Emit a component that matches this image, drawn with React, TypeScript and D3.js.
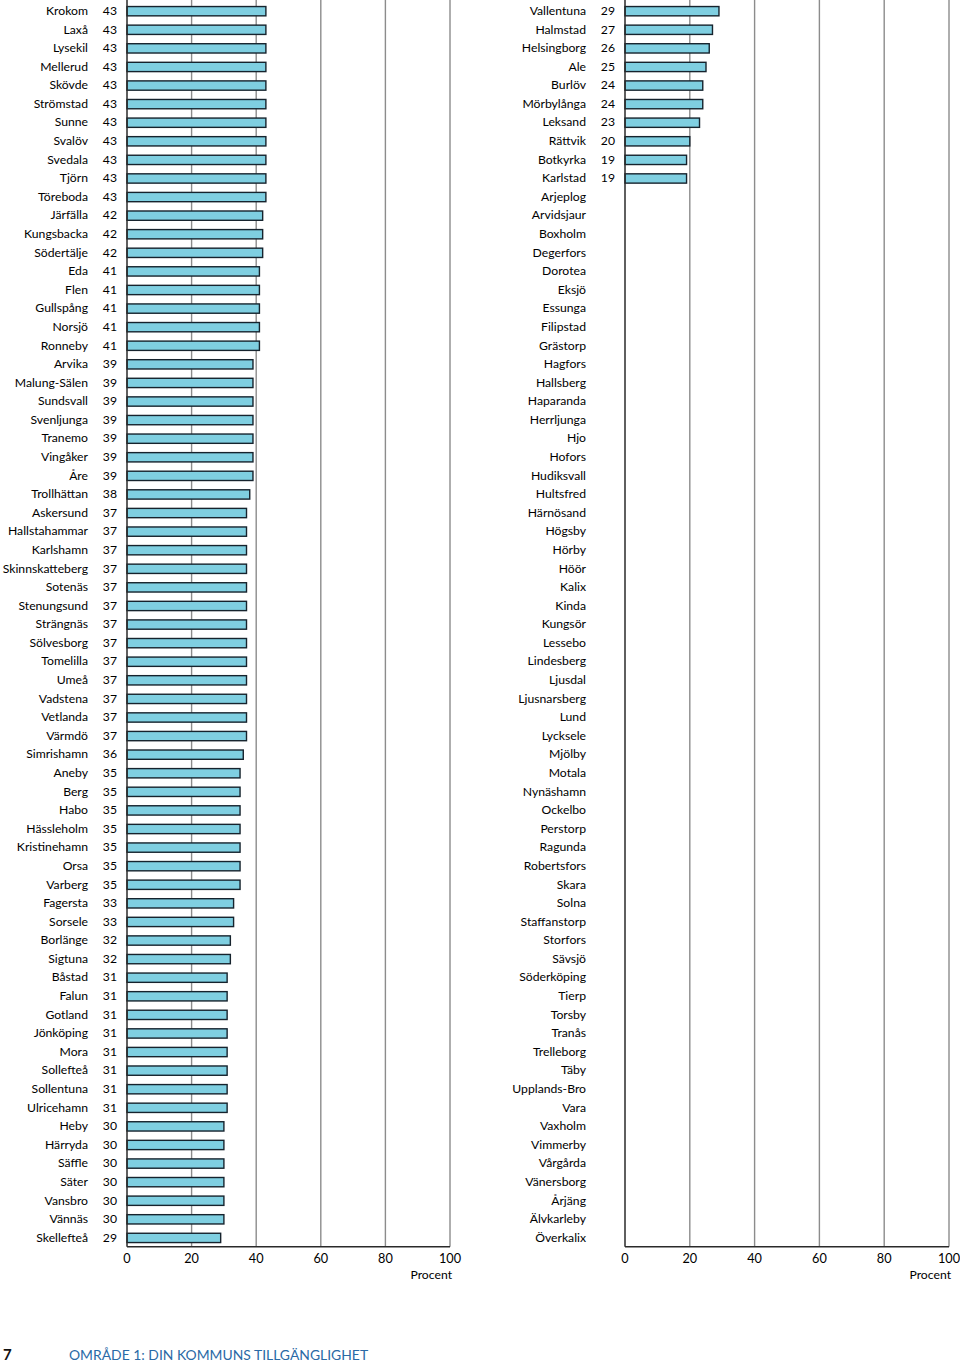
import React from "react";
import * as d3 from "d3";

const leftNames = ["Krokom","Laxå","Lysekil","Mellerud","Skövde","Strömstad","Sunne","Svalöv","Svedala","Tjörn","Töreboda","Järfälla","Kungsbacka","Södertälje","Eda","Flen","Gullspång","Norsjö","Ronneby","Arvika","Malung-Sälen","Sundsvall","Svenljunga","Tranemo","Vingåker","Åre","Trollhättan","Askersund","Hallstahammar","Karlshamn","Skinnskatteberg","Sotenäs","Stenungsund","Strängnäs","Sölvesborg","Tomelilla","Umeå","Vadstena","Vetlanda","Värmdö","Simrishamn","Aneby","Berg","Habo","Hässleholm","Kristinehamn","Orsa","Varberg","Fagersta","Sorsele","Borlänge","Sigtuna","Båstad","Falun","Gotland","Jönköping","Mora","Sollefteå","Sollentuna","Ulricehamn","Heby","Härryda","Säffle","Säter","Vansbro","Vännäs","Skellefteå"];
const leftValues = [43,43,43,43,43,43,43,43,43,43,43,42,42,42,41,41,41,41,41,39,39,39,39,39,39,39,38,37,37,37,37,37,37,37,37,37,37,37,37,37,36,35,35,35,35,35,35,35,33,33,32,32,31,31,31,31,31,31,31,31,30,30,30,30,30,30,29];

const rightNames = ["Vallentuna","Halmstad","Helsingborg","Ale","Burlöv","Mörbylånga","Leksand","Rättvik","Botkyrka","Karlstad","Arjeplog","Arvidsjaur","Boxholm","Degerfors","Dorotea","Eksjö","Essunga","Filipstad","Grästorp","Hagfors","Hallsberg","Haparanda","Herrljunga","Hjo","Hofors","Hudiksvall","Hultsfred","Härnösand","Högsby","Hörby","Höör","Kalix","Kinda","Kungsör","Lessebo","Lindesberg","Ljusdal","Ljusnarsberg","Lund","Lycksele","Mjölby","Motala","Nynäshamn","Ockelbo","Perstorp","Ragunda","Robertsfors","Skara","Solna","Staffanstorp","Storfors","Sävsjö","Söderköping","Tierp","Torsby","Tranås","Trelleborg","Täby","Upplands-Bro","Vara","Vaxholm","Vimmerby","Vårgårda","Vänersborg","Årjäng","Älvkarleby","Överkalix"];
const rightValues: (number | null)[] = [29,27,26,25,24,24,23,20,19,19,...Array(57).fill(null)];

const xTicks = [0, 20, 40, 60, 80, 100];
const gridTicks = [20, 40, 60, 80, 100];
const axisTitle = "Procent";
const pageNumber = "7";
const footerTitle = "OMRÅDE 1: DIN KOMMUNS TILLGÄNGLIGHET";

const FONT = "Lato, 'Open Sans', sans-serif";
const FS = 12.2;

function Panel({ names, values, x0, x1 }: { names: string[]; values: (number | null)[]; x0: number; x1: number }) {
  const x = d3.scaleLinear().domain([0, 100]).range([x0, x1]);
  const y = d3.scaleBand<string>().domain(names).range([1.9, 1247.2]).paddingInner(0.5).paddingOuter(0.25);
  const bottom = 1246.7;
  return (
    <g>
      {gridTicks.map((t) => (
        <line key={t} x1={x(t)} x2={x(t)} y1={0} y2={bottom} stroke="#8c8c8c" strokeWidth={1.4} />
      ))}
      {names.map((n, i) => {
        const v = values[i];
        const yc = (y(n) as number) + y.bandwidth() / 2;
        return (
          <g key={n}>
            <text x={x0 - 39} y={yc - 0.5} dy="0.35em" textAnchor="end" fontSize={FS} fill="#000" fontFamily={FONT}>{n}</text>
            {v != null && (
              <>
                <text x={x0 - 10} y={yc - 0.5} dy="0.35em" textAnchor="end" fontSize={FS} fill="#000" fontFamily={FONT}>{v}</text>
                <rect x={x(0)} y={y(n)} width={x(v) - x(0)} height={y.bandwidth()} fill="#7fcfe1" stroke="#16232d" strokeWidth={1.4} />
              </>
            )}
          </g>
        );
      })}
      <line x1={x0} x2={x0} y1={0} y2={bottom} stroke="#2a2a2a" strokeWidth={1.5} />
      <line x1={x0} x2={x1} y1={bottom} y2={bottom} stroke="#2a2a2a" strokeWidth={1.5} />
      {xTicks.map((t) => (
        <text key={t} x={x(t)} y={1263} textAnchor="middle" fontSize={FS + 0.5} fill="#000" fontFamily={FONT}>{t}</text>
      ))}
      <text x={x1 + 2} y={1279} textAnchor="end" fontSize={FS} fill="#000" fontFamily={FONT}>{axisTitle}</text>
    </g>
  );
}

export default function App() {
  return (
    <svg width={960} height={1364} style={{ position: "absolute", left: 0, top: 0, background: "#fff" }}>
      <rect width={960} height={1364} fill="#fff" />
      <Panel names={leftNames} values={leftValues} x0={127} x1={450} />
      <Panel names={rightNames} values={rightValues} x0={625} x1={949} />
      <text x={3} y={1360} fontSize={15} fontWeight="bold" fill="#111" fontFamily={FONT}>{pageNumber}</text>
      <text x={69} y={1360} fontSize={13.9} fill="#2a6aa6" fontFamily={FONT}>{footerTitle}</text>
    </svg>
  );
}
